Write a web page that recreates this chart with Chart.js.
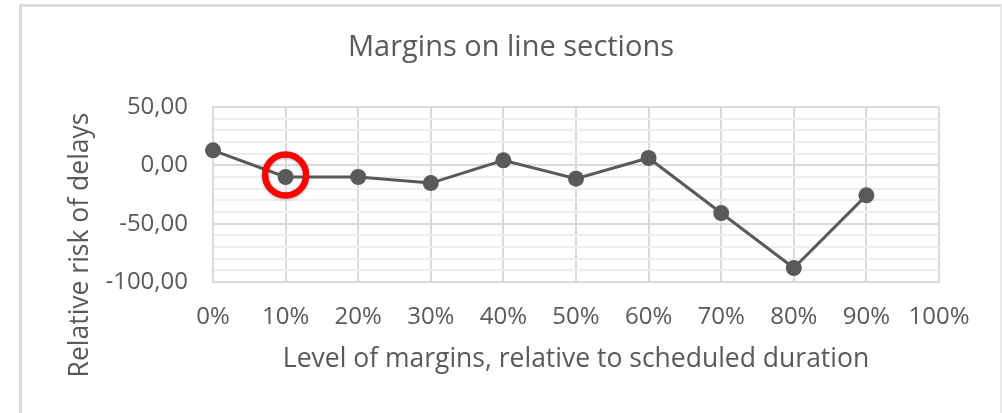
<!DOCTYPE html>
<html><head><meta charset="utf-8">
<script src="https://cdn.jsdelivr.net/npm/chart.js@4"></script>
<style>
html,body{margin:0;padding:0;background:#fff;overflow:hidden;}
#frame{position:absolute;left:19px;top:4px;width:978px;height:500px;border-left:3px solid #dcdcdc;border-top:3px solid #dcdcdc;border-right:2px solid #e8e8e8;}
#wrap{position:absolute;left:0;top:0;width:1002px;height:413px;}
</style></head><body>
<div id="frame"></div>
<div id="wrap"><canvas id="c"></canvas></div>
<script>
// ---- data ----
const categories = ['0%','10%','20%','30%','40%','50%','60%','70%','80%','90%','100%'];
const riskValues = [12.9, -10, -10, -15.2, 4.3, -11.4, 6.3, -40.9, -88, -25.7];
const yMajorTicks = [50, 0, -50, -100];
const chartTitle = 'Margins on line sections';
const xAxisTitle = 'Level of margins, relative to scheduled duration';
const yAxisTitle = 'Relative risk of delays';
const highlightIndex = 1;

// ---- style ----
const FONT = "'Open Sans', sans-serif";
const TEXT = '#595959';

const texts = {
  id: 'texts',
  afterDraw(chart) {
    const ctx = chart.ctx;
    ctx.save();
    ctx.fillStyle = TEXT;
    ctx.textAlign = 'center';
    ctx.textBaseline = 'middle';
    ctx.font = "29px " + FONT;
    ctx.fillText(chartTitle, 511, 48);
    ctx.font = "26.5px " + FONT;
    const ca = chart.chartArea;
    ctx.fillText(xAxisTitle, (ca.left + ca.right) / 2, 359);
    ctx.translate(80, 245);
    ctx.rotate(-Math.PI / 2);
    ctx.fillText(yAxisTitle, 0, 0);
    ctx.restore();
  }
};

const highlight = {
  id: 'highlight',
  afterDatasetsDraw(chart) {
    const pt = chart.getDatasetMeta(0).data[highlightIndex];
    if (!pt) return;
    const ctx = chart.ctx;
    ctx.save();
    ctx.strokeStyle = '#ff0000';
    ctx.lineWidth = 6.5;
    ctx.shadowColor = 'rgba(0,0,0,0.25)';
    ctx.shadowBlur = 3;
    ctx.shadowOffsetY = 1;
    ctx.beginPath();
    ctx.arc(pt.x, pt.y - 2, 20.5, 0, Math.PI * 2);
    ctx.stroke();
    ctx.restore();
  }
};

new Chart(document.getElementById('c'), {
  type: 'line',
  data: {
    labels: categories,
    datasets: [{
      data: riskValues,
      borderColor: '#595959',
      backgroundColor: '#595959',
      borderWidth: 3,
      pointRadius: 8,
      pointHoverRadius: 8,
      pointBackgroundColor: '#595959',
      pointBorderWidth: 0,
      tension: 0,
      fill: false
    }]
  },
  options: {
    responsive: true,
    maintainAspectRatio: false,
    animation: false,
    events: [],
    layout: { padding: { left: 0, right: 63, top: 107, bottom: 0 } },
    plugins: {
      legend: { display: false },
      tooltip: { enabled: false },
      title: { display: false }
    },
    scales: {
      x: {
        offset: false,
        grid: { color: '#d9d9d9', lineWidth: 2, drawTicks: false },
        border: { display: true, color: '#d9d9d9', width: 2 },
        ticks: { color: TEXT, font: { family: FONT, size: 24 }, padding: 21, maxRotation: 0, autoSkip: false },
        afterFit(s) { s.height = 131; }
      },
      y: {
        min: -100,
        max: 50,
        grid: {
          drawTicks: false,
          color: c => (yMajorTicks.includes(c.tick.value) ? '#d9d9d9' : '#eeeeee'),
          lineWidth: 2
        },
        border: { display: true, color: '#d9d9d9', width: 2 },
        ticks: {
          stepSize: 10,
          color: TEXT,
          font: { family: FONT, size: 24 },
          padding: 25,
          autoSkip: false,
          callback: v => (yMajorTicks.includes(v) ? v.toFixed(2).replace('.', ',') : '')
        },
        afterFit(s) { s.width = 213; }
      }
    }
  },
  plugins: [texts, highlight]
});
</script>
</body></html>
